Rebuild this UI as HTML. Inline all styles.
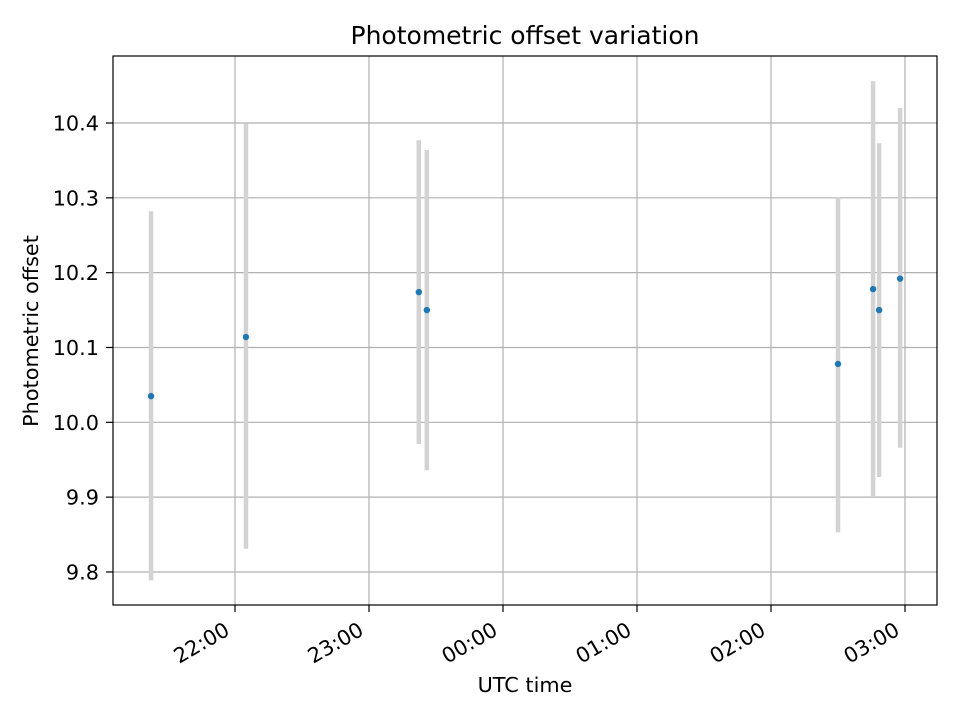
<!DOCTYPE html>
<html><head><meta charset="utf-8"><style>
body{margin:0;background:#fff;font-family:"DejaVu Sans","Liberation Sans",sans-serif}
</style></head><body>
<svg id="chart" width="960" height="720" xmlns="http://www.w3.org/2000/svg" font-family="DejaVu Sans, Liberation Sans, sans-serif">
<rect width="960" height="720" fill="#fff"/>
<g id="grid"></g>
<g id="bars"></g>
<g id="pts"></g>
<rect x="113" y="56" width="824" height="549" fill="none" stroke="#000" stroke-width="1.2"/>
<g id="ticks"></g>
<text x="525" y="44" text-anchor="middle" font-size="25">Photometric offset variation</text>
<text x="525" y="692" text-anchor="middle" font-size="20.8">UTC time</text>
<text transform="translate(38,331) rotate(-90)" text-anchor="middle" font-size="20.8">Photometric offset</text>
</svg>
<script>
// minutes relative to 22:00 UTC
const times=[-37.6,4.9,82.3,85.9,270,285.7,288.4,297.8];
const values=[10.035,10.114,10.174,10.150,10.078,10.178,10.150,10.192];
const errHigh=[10.282,10.399,10.377,10.364,10.301,10.456,10.373,10.420];
const errLow=[9.789,9.831,9.971,9.936,9.853,9.900,9.927,9.966];
const yTicks=[9.8,9.9,10.0,10.1,10.2,10.3,10.4];
const xTickMin=[0,60,120,180,240,300];
const xTickLabels=["22:00","23:00","00:00","01:00","02:00","03:00"];
const NS="http://www.w3.org/2000/svg";
const X=m=>235+m*134/60;
const Y=v=>123+(10.4-v)*748.3;
function mk(t,a,p){const e=document.createElementNS(NS,t);for(const k in a)e.setAttribute(k,a[k]);document.getElementById(p).appendChild(e);return e;}
yTicks.forEach(v=>{const y=Y(v);
 let g=mk('line',{x1:113,x2:937,y1:y,y2:y,stroke:'#b0b0b0','stroke-width':1.2},'grid');
 
 let t=mk('line',{x1:106,x2:113,y1:y,y2:y,stroke:'#000','stroke-width':1.2},'ticks');
 
 let l=mk('text',{x:99,y:y+7.5,'text-anchor':'end','font-size':20.8},'ticks');l.textContent=v.toFixed(1);
 
});
xTickMin.forEach((m,i)=>{const x=X(m);
 let g=mk('line',{x1:x,x2:x,y1:56,y2:605,stroke:'#b0b0b0','stroke-width':1.2},'grid');
 
 let t=mk('line',{x1:x,x2:x,y1:605,y2:612,stroke:'#000','stroke-width':1.2},'ticks');
 
 let l=mk('text',{transform:`translate(${x-4},${634}) rotate(-30)`,'text-anchor':'end','font-size':20.8},'ticks');l.textContent=xTickLabels[i];
 
});
times.forEach((m,i)=>{const x=X(m);
 let b=mk('line',{x1:x,x2:x,y1:Y(errHigh[i]),y2:Y(errLow[i]),stroke:'#d3d3d3','stroke-width':4.5},'bars');
 
 let p=mk('circle',{cx:x,cy:Y(values[i]),r:3.2,fill:'#1f77b4'},'pts');
 
});
</script>
</body></html>
